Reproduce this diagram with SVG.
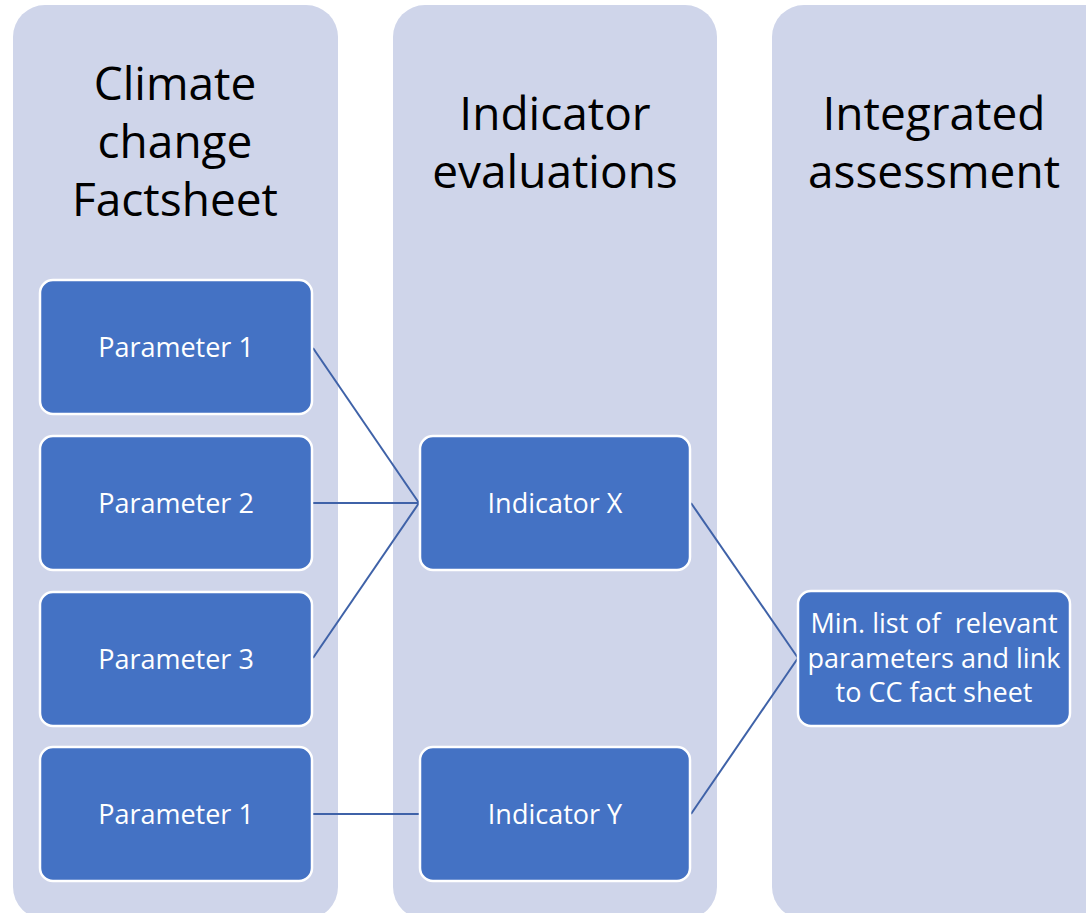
<svg xmlns="http://www.w3.org/2000/svg" width="1086" height="913" viewBox="0 0 1086 913">
<style>
.col{fill:#cfd5ea;}
.node{fill:#4472c4;stroke:#ffffff;stroke-width:2.5;}
.title{font-family:"Open Sans","Liberation Sans",sans-serif;font-size:46px;fill:#000;text-anchor:middle;}
.lbl{font-family:"Open Sans","Liberation Sans",sans-serif;font-size:27px;fill:#fff;text-anchor:middle;white-space:pre;}
.conn line{stroke:#3f62a8;stroke-width:2;}
</style>
<rect width="1086" height="913" fill="#ffffff"/>
<g id="col1"><rect class="col" x="13" y="5" width="325" height="914" rx="32"/>
<text class="title" x="175" y="100">Climate</text><text class="title" x="175" y="158">change</text><text class="title" x="175" y="216">Factsheet</text></g>
<g id="col2"><rect class="col" x="393" y="5" width="324" height="914" rx="32"/>
<text class="title" x="555" y="130">Indicator</text><text class="title" x="555" y="188">evaluations</text></g>
<g id="col3"><rect class="col" x="772" y="5" width="360" height="914" rx="32"/>
<text class="title" x="934" y="130">Integrated</text><text class="title" x="934" y="188">assessment</text></g>
<g class="conn" id="connectors">
<line x1="313" y1="348" x2="419" y2="503"/>
<line x1="313" y1="503" x2="419" y2="503"/>
<line x1="313" y1="658" x2="419" y2="503"/>
<line x1="313" y1="814" x2="419" y2="814"/>
<line x1="691" y1="503" x2="798" y2="658"/>
<line x1="691" y1="814" x2="798" y2="658"/>
</g>
<g id="p1"><rect class="node" x="40" y="280" width="272" height="134" rx="13"/><text class="lbl" x="176" y="357">Parameter 1</text></g>
<g id="p2"><rect class="node" x="40" y="436" width="272" height="134" rx="13"/><text class="lbl" x="176" y="513">Parameter 2</text></g>
<g id="p3"><rect class="node" x="40" y="592" width="272" height="134" rx="13"/><text class="lbl" x="176" y="669">Parameter 3</text></g>
<g id="p4"><rect class="node" x="40" y="747" width="272" height="134" rx="13"/><text class="lbl" x="176" y="824">Parameter 1</text></g>
<g id="ix"><rect class="node" x="420" y="436" width="270" height="134" rx="13"/><text class="lbl" x="555" y="513">Indicator X</text></g>
<g id="iy"><rect class="node" x="420" y="747" width="270" height="134" rx="13"/><text class="lbl" x="555" y="824">Indicator Y</text></g>
<g id="ml"><rect class="node" x="798" y="591" width="272" height="135" rx="13"/>
<text class="lbl" x="934" y="633" xml:space="preserve">Min. list of  relevant</text><text class="lbl" x="934" y="668">parameters and link</text><text class="lbl" x="934" y="702">to CC fact sheet</text></g>
</svg>
